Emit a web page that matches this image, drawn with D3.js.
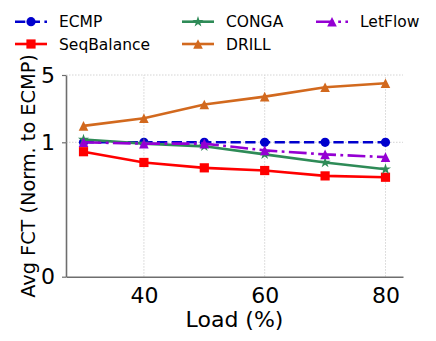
<!DOCTYPE html>
<html>
<head>
<meta charset="utf-8">
<script src="https://cdn.jsdelivr.net/npm/d3@7"></script>
<style>
    body { margin: 0; background: #fff; }
    text { font-family: "DejaVu Sans", sans-serif; fill: #000; }
</style>
</head>
<body>
<svg id="chart" width="436" height="341"></svg>
<script>
// Data
var loads = [30, 40, 50, 60, 70, 80];
var ecmp = [1.00, 1.00, 1.00, 1.00, 1.00, 1.00];
var seqBalance = [0.93, 0.85, 0.81, 0.79, 0.75, 0.74];
var conga = [1.07, 0.99, 0.97, 0.91, 0.85, 0.80];
var drill = [1.48, 1.78, 2.47, 2.98, 3.73, 4.10];
var letFlow = [1.00, 0.99, 0.99, 0.94, 0.91, 0.89];
var xTicks = [40, 60, 80];
var yTicksLinear = [0, 1];
var yTicksLog = [5];

var seriesNames = ['ECMP', 'SeqBalance', 'CONGA', 'DRILL', 'LetFlow'];
var seriesValues = [ecmp, seqBalance, conga, drill, letFlow];

var styles = {
    'ECMP':       { color: '#0000cd', dash: '10.3,4.4', marker: 'circle' },
    'SeqBalance': { color: '#ff0000', dash: null, marker: 'square' },
    'CONGA':      { color: '#2e8b57', dash: null, marker: 'star' },
    'DRILL':      { color: '#d2691e', dash: null, marker: 'triangle' },
    'LetFlow':    { color: '#9400d3', dash: '17.8,4.4,2.8,4.4', marker: 'triangle' }
};

var svg = d3.select('#chart');
svg.append('rect').attr('width', 436).attr('height', 341).attr('fill', '#fff');

// Scales: linear below 1, log above 1 (symlog-like)
var x = d3.scaleLinear().domain([27.1, 82.9]).range([66, 403]);
var yLin = d3.scaleLinear().domain([0, 1]).range([276.7, 142.3]);
var yLog = d3.scaleLog().domain([1, 5]).range([142.3, 75]);
function y(v) { return v <= 1 ? yLin(v) : yLog(v); }

// Grid lines
var grid = svg.append('g')
    .attr('stroke', '#cfcfcf')
    .attr('stroke-width', 0.9)
    .attr('stroke-dasharray', '1.5,1.5');
grid.selectAll('.vgrid')
    .data(xTicks)
    .enter()
    .append('line')
    .attr('x1', function(d) { return x(d); })
    .attr('x2', function(d) { return x(d); })
    .attr('y1', y(0))
    .attr('y2', y(5));
grid.selectAll('.hgrid')
    .data([1, 5])
    .enter()
    .append('line')
    .attr('x1', x.range()[0])
    .attr('x2', x.range()[1])
    .attr('y1', function(d) { return y(d); })
    .attr('y2', function(d) { return y(d); });

// X axis
var xAxis = svg.append('g')
    .attr('transform', 'translate(0,' + y(0) + ')')
    .call(d3.axisBottom(x)
        .tickValues(xTicks)
        .tickSize(0)
        .tickSizeOuter(0)
        .tickPadding(10.5)
        .tickFormat(d3.format('d')));

// Y axis in two pieces (linear part and log part)
var yAxisLin = svg.append('g')
    .attr('transform', 'translate(' + x.range()[0] + ',0)')
    .call(d3.axisLeft(yLin)
        .tickValues(yTicksLinear)
        .tickSize(4)
        .tickSizeOuter(0)
        .tickPadding(7)
        .tickFormat(d3.format('d')));
var yAxisLog = svg.append('g')
    .attr('transform', 'translate(' + x.range()[0] + ',0)')
    .call(d3.axisLeft(yLog)
        .tickValues(yTicksLog)
        .tickSize(4)
        .tickSizeOuter(0)
        .tickPadding(7)
        .tickFormat(d3.format('d')));

[xAxis, yAxisLin, yAxisLog].forEach(function(g) {
    g.select('.domain').attr('stroke', '#6e6e6e').attr('stroke-width', 1.6);
    g.selectAll('.tick line').attr('stroke', '#6e6e6e').attr('stroke-width', 1.2);
    g.selectAll('.tick text')
        .attr('font-size', '22px')
        .attr('font-family', '"DejaVu Sans", sans-serif')
        .attr('fill', '#000');
});

// Axis titles
svg.append('text')
    .attr('x', 234.5)
    .attr('y', 326.5)
    .attr('text-anchor', 'middle')
    .attr('font-size', '22px')
    .text('Load (%)');

svg.append('text')
    .attr('transform', 'translate(35,176) rotate(-90)')
    .attr('text-anchor', 'middle')
    .attr('font-size', '19.3px')
    .text('Avg FCT (Norm. to ECMP)');

// Marker drawing
function drawMarker(g, kind, cx, cy, color) {
    if (kind === 'circle') {
        g.append('circle').attr('cx', cx).attr('cy', cy).attr('r', 4.6)
            .attr('fill', color);
    } else if (kind === 'square') {
        g.append('rect').attr('x', cx - 4.6).attr('y', cy - 4.6)
            .attr('width', 9.2).attr('height', 9.2)
            .attr('fill', color);
    } else if (kind === 'triangle') {
        var s = 4.8;
        g.append('path')
            .attr('d', 'M' + cx + ',' + (cy - s) + 'L' + (cx + s) + ',' + (cy + s) + 'L' + (cx - s) + ',' + (cy + s) + 'Z')
            .attr('fill', color);
    } else if (kind === 'star') {
        g.append('path')
            .attr('transform', 'translate(' + cx + ',' + cy + ')')
            .attr('d', d3.symbol().type(d3.symbolStar).size(38)())
            .attr('fill', color);
    }
}

var line = d3.line()
    .x(function(d) { return x(d[0]); })
    .y(function(d) { return y(d[1]); });

seriesNames.forEach(function(name, i) {
    var st = styles[name];
    var pts = loads.map(function(l, j) { return [l, seriesValues[i][j]]; });
    var g = svg.append('g');
    g.append('path')
        .datum(pts)
        .attr('fill', 'none')
        .attr('stroke', st.color)
        .attr('stroke-width', 2.6)
        .attr('stroke-dasharray', st.dash)
        .attr('d', line);
    pts.forEach(function(p) {
        drawMarker(g, st.marker, x(p[0]), y(p[1]), st.color);
    });
});

// Legend (3 columns, column-major order)
var legendPos = [
    { x: 15, y: 21.7 },
    { x: 15, y: 44 },
    { x: 182, y: 21.7 },
    { x: 182, y: 44 },
    { x: 316, y: 21.7 }
];
seriesNames.forEach(function(name, i) {
    var st = styles[name];
    var p = legendPos[i];
    var g = svg.append('g');
    g.append('line')
        .attr('x1', p.x).attr('x2', p.x + 32)
        .attr('y1', p.y).attr('y2', p.y)
        .attr('stroke', st.color)
        .attr('stroke-width', 2.6)
        .attr('stroke-dasharray', st.dash);
    drawMarker(g, st.marker, p.x + 16, p.y, st.color);
    g.append('text')
        .attr('x', p.x + 44)
        .attr('y', p.y + 5.6)
        .attr('font-size', '15.5px')
        .text(name);
});
</script>
</body>
</html>
